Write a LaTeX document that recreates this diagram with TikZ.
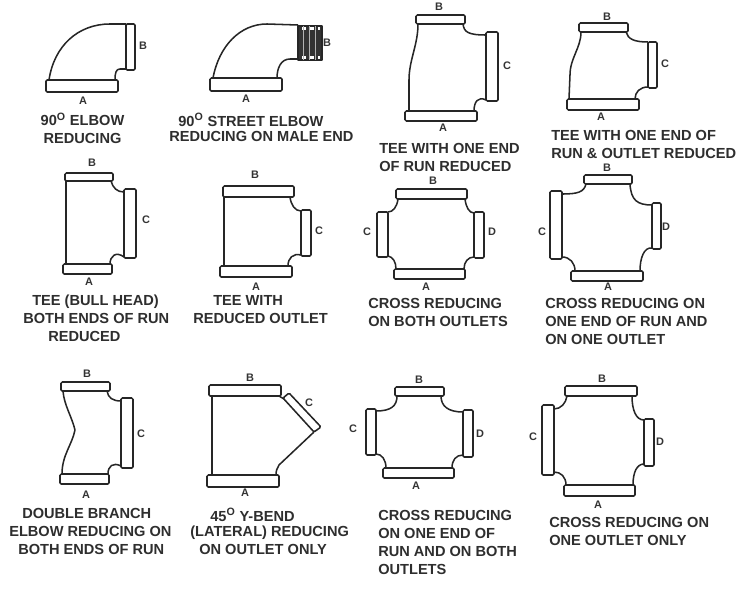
\documentclass[tikz,border=0pt]{standalone}
\usepackage{fontspec}
\setmainfont{Liberation Sans}
\tikzset{
	pipe/.style={draw=black!85,line width=1.15pt,line join=round},
	collar/.style={draw=black!85,line width=1.15pt,rounded corners=1pt},
	endlabel/.style={font=\fontsize{8.2}{10}\selectfont\bfseries,text=black!80,inner sep=0pt},
	caption/.style={font=\fontsize{10.95}{13.5}\selectfont\bfseries,text=black!82,inner sep=0pt},
}
\begin{document}
\begin{tikzpicture}[x=0.75pt,y=-0.75pt]
	\useasboundingbox (0,0) rectangle (744,614);

	% 90 elbow reducing
	\draw[collar] (46,80) rectangle (118,92);
	\draw[collar] (126,24) rectangle (135,70);
	\draw[pipe] (49,80) .. controls (54,46) and (78,24) .. (110,24) -- (126,24)
	(126,69) -- (120,69) .. controls (116,69) and (115,73) .. (115,80);
	\node[endlabel] (elbowB) at (143,46) {B};
	\node[endlabel] (elbowA) at (83,101) {A};
	\node[caption,align=center] (elbowText) at (82.5,128) {90\textsuperscript{O} ELBOW\\REDUCING};

	% 90 street elbow
	\draw[collar] (210,78) rectangle (282,91);
	\draw[pipe] (213,78) .. controls (219,46) and (240,24) .. (267,24) -- (298,25)
	(298,59) -- (290,59) .. controls (281,59) and (277,68) .. (277,78);
	\draw[pipe,fill=black!80] (298,26) rectangle (322,60);
	\draw[white,line width=2.5pt,dash pattern=on 3pt off 3pt] (302,28.5) -- (320,28.5)
	(302,57.5) -- (320,57.5);
	\draw[white!70!black,line width=0.7pt] (303,26) -- (303,60) (309,26) -- (309,60) (315,26) -- (315,60);
	\node[endlabel] (streetB) at (327,43) {B};
	\node[endlabel] (streetA) at (246,99) {A};
	\node[caption,anchor=north west] (streetTextA) at (178,113) {90\textsuperscript{O} STREET ELBOW};
	\node[caption,anchor=north west] (streetTextB) at (169,131) {REDUCING ON MALE END};

	% Tee, one end of run reduced
	\draw[collar] (416,15) rectangle (465,24);
	\draw[collar] (405,111) rectangle (477,121);
	\draw[collar] (486,32) rectangle (498,101);
	\draw[pipe] (418,24) .. controls (418,45) and (409,60) .. (409,80) -- (409,111)
	(463,24) .. controls (464,32) and (468,35) .. (486,35)
	(486,100) .. controls (478,96) and (474,102) .. (474,111);
	\node[endlabel] (teeRunB) at (439,7) {B};
	\node[endlabel] (teeRunC) at (507,66) {C};
	\node[endlabel] (teeRunA) at (443,128) {A};
	\node[caption,align=left,anchor=north west] (teeRunText) at (379,143) {TEE WITH ONE END\\OF RUN REDUCED};

	% Tee, one end of run and outlet reduced
	\draw[collar] (579,23) rectangle (628,32);
	\draw[collar] (567,99) rectangle (639,110);
	\draw[collar] (648,42) rectangle (657,88);
	\draw[pipe] (581,32) .. controls (581,48) and (570,58) .. (570,75) -- (569,99)
	(626,32) .. controls (628,39) and (634,42) .. (648,42)
	(648,87) .. controls (640,87) and (635,92) .. (635,99);
	\node[endlabel] (teeOutB) at (607,17) {B};
	\node[endlabel] (teeOutC) at (665,64) {C};
	\node[endlabel] (teeOutA) at (601,117) {A};
	\node[caption,align=left,anchor=north west] (teeOutText) at (551,130) {TEE WITH ONE END OF\\RUN \& OUTLET REDUCED};

	% Bull head tee
	\draw[collar] (65,173) rectangle (113,181);
	\draw[collar] (63,264) rectangle (112,274);
	\draw[collar] (124,189) rectangle (136,258);
	\draw[pipe] (66,181) -- (66,264)
	(111,181) .. controls (113,188) and (117,192) .. (124,192)
	(124,257) .. controls (116,251) and (110,256) .. (110,264);
	\node[endlabel] (bullB) at (92,163) {B};
	\node[endlabel] (bullC) at (146,220) {C};
	\node[endlabel] (bullA) at (89,282) {A};
	\node[caption,anchor=north west] (bullTextA) at (32,295) {TEE (BULL HEAD)};
	\node[caption,anchor=north west] (bullTextB) at (23,313) {BOTH ENDS OF RUN};
	\node[caption,anchor=north west] (bullTextC) at (48,331) {REDUCED};

	% Tee with reduced outlet
	\draw[collar] (223,186) rectangle (294,197);
	\draw[collar] (220,266) rectangle (292,277);
	\draw[collar] (301,210) rectangle (311,256);
	\draw[pipe] (224,197) -- (224,266)
	(290,197) .. controls (291,205) and (295,211) .. (301,211)
	(301,255) .. controls (293,253) and (288,258) .. (288,266);
	\node[endlabel] (outletB) at (255,175) {B};
	\node[endlabel] (outletC) at (319,231) {C};
	\node[endlabel] (outletA) at (256,287) {A};
	\node[caption,anchor=north west] (outletTextA) at (213,295) {TEE WITH};
	\node[caption,anchor=north west] (outletTextB) at (193,313) {REDUCED OUTLET};

	% Cross, both outlets
	\draw[collar] (396,189) rectangle (467,199);
	\draw[collar] (394,269) rectangle (465,279);
	\draw[collar] (377,212) rectangle (388,257);
	\draw[collar] (474,212) rectangle (484,258);
	\draw[pipe] (398,199) .. controls (397,207) and (393,212) .. (388,212)
	(465,199) .. controls (466,207) and (469,213) .. (474,213)
	(474,257) .. controls (468,257) and (464,262) .. (464,269)
	(388,256) .. controls (393,257) and (396,262) .. (396,269);
	\node[endlabel] (crossB) at (433,181) {B};
	\node[endlabel] (crossC) at (367,232) {C};
	\node[endlabel] (crossD) at (492,232) {D};
	\node[endlabel] (crossA) at (426,287) {A};
	\node[caption,align=left,anchor=north west] (crossText) at (368,298) {CROSS REDUCING\\ON BOTH OUTLETS};

	% Cross, one end of run and one outlet
	\draw[collar] (584,175) rectangle (632,184);
	\draw[collar] (571,271) rectangle (643,281);
	\draw[collar] (550,191) rectangle (562,259);
	\draw[collar] (652,203) rectangle (661,249);
	\draw[pipe] (586,184) .. controls (584,192) and (578,194) .. (562,194)
	(630,184) .. controls (631,200) and (637,205) .. (652,205)
	(652,248) .. controls (644,247) and (640,258) .. (640,271)
	(562,257) .. controls (570,257) and (575,263) .. (575,271);
	\node[endlabel] (crossRunB) at (607,168) {B};
	\node[endlabel] (crossRunC) at (542,232) {C};
	\node[endlabel] (crossRunD) at (666,227) {D};
	\node[endlabel] (crossRunA) at (608,287) {A};
	\node[caption,align=left,anchor=north west] (crossRunText) at (545,298) {CROSS REDUCING ON\\ONE END OF RUN AND\\ON ONE OUTLET};

	% Double branch elbow
	\draw[collar] (61,382) rectangle (110,391);
	\draw[collar] (60,474) rectangle (109,484);
	\draw[collar] (121,398) rectangle (133,468);
	\draw[pipe] (63,391) .. controls (64,405) and (72,417) .. (75,430)
	.. controls (72,445) and (62,455) .. (62,474)
	(107,391) .. controls (108,398) and (113,401) .. (121,401)
	(121,466) .. controls (113,462) and (108,466) .. (108,474);
	\node[endlabel] (doubleB) at (87,374) {B};
	\node[endlabel] (doubleC) at (141,434) {C};
	\node[endlabel] (doubleA) at (86,495) {A};
	\node[caption,anchor=north west] (doubleTextA) at (22,508) {DOUBLE BRANCH};
	\node[caption,anchor=north west] (doubleTextB) at (9,526) {ELBOW REDUCING ON};
	\node[caption,anchor=north west] (doubleTextC) at (18,544) {BOTH ENDS OF RUN};

	% 45 Y-bend
	\draw[collar] (209,385) rectangle (281,396);
	\draw[collar] (207,475) rectangle (279,487);
	\draw[collar] (283,398) -- (289,393) -- (321,427) -- (314,432) -- cycle;
	\draw[pipe] (212,396) -- (212,475)
	(279,396) -- (284,399)
	(314,432) -- (279,465) .. controls (277,468) and (276,471) .. (276,475);
	\node[endlabel] (bendB) at (250,378) {B};
	\node[endlabel] (bendC) at (309,403) {C};
	\node[endlabel] (bendA) at (245,493) {A};
	\node[caption,anchor=north west] (bendTextA) at (210,508) {45\textsuperscript{O} Y-BEND};
	\node[caption,anchor=north west] (bendTextB) at (190,526) {(LATERAL) REDUCING};
	\node[caption,anchor=north west] (bendTextC) at (199,544) {ON OUTLET ONLY};

	% Cross, one end of run and both outlets
	\draw[collar] (395,387) rectangle (444,396);
	\draw[collar] (383,468) rectangle (454,478);
	\draw[collar] (366,409) rectangle (376,455);
	\draw[collar] (463,410) rectangle (473,457);
	\draw[pipe] (397,396) .. controls (397,406) and (391,411) .. (376,411)
	(441,396) .. controls (441,406) and (448,412) .. (463,412)
	(463,455) .. controls (456,455) and (452,460) .. (452,468)
	(376,454) .. controls (382,454) and (386,460) .. (386,468);
	\node[endlabel] (crossEndB) at (419,380) {B};
	\node[endlabel] (crossEndC) at (353,429) {C};
	\node[endlabel] (crossEndD) at (480,434) {D};
	\node[endlabel] (crossEndA) at (416,486) {A};
	\node[caption,align=left,anchor=north west] (crossEndText) at (378,510) {CROSS REDUCING\\ON ONE END OF\\RUN AND ON BOTH\\OUTLETS};

	% Cross, one outlet only
	\draw[collar] (565,386) rectangle (637,396);
	\draw[collar] (564,485) rectangle (635,496);
	\draw[collar] (542,405) rectangle (554,475);
	\draw[collar] (644,419) rectangle (654,466);
	\draw[pipe] (567,396) .. controls (566,403) and (561,409) .. (554,409)
	(632,396) .. controls (632,410) and (636,420) .. (644,420)
	(644,464) .. controls (637,464) and (633,472) .. (633,485)
	(554,472) .. controls (561,472) and (566,477) .. (566,485);
	\node[endlabel] (crossOneB) at (602,379) {B};
	\node[endlabel] (crossOneC) at (533,437) {C};
	\node[endlabel] (crossOneD) at (660,442) {D};
	\node[endlabel] (crossOneA) at (598,505) {A};
	\node[caption,align=left,anchor=north west] (crossOneText) at (549,517) {CROSS REDUCING ON\\ONE OUTLET ONLY};
\end{tikzpicture}
\end{document}
